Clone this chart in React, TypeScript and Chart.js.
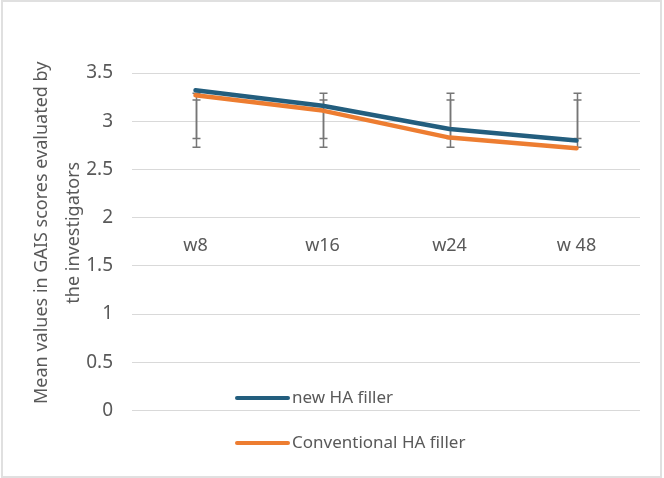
import React, { useEffect, useRef } from "react";
import { Chart, registerables } from "chart.js";

Chart.register(...registerables);

// ---- data ----
const categories = ["w8", "w16", "w24", "w 48"];
const seriesLabels = ["new HA filler", "Conventional HA filler"];
const newHA = [3.32, 3.16, 2.92, 2.8];
const conventionalHA = [3.27, 3.11, 2.83, 2.72];
const errOuterHigh = [3.29, 3.29, 3.29, 3.29];
const errOuterLow = [2.73, 2.73, 2.73, 2.73];
const errInnerHigh = [3.22, 3.22, 3.22, 3.22];
const errInnerLow = [2.82, 2.82, 2.82, 2.82];
const yTitle = ["Mean values in GAIS scores evaluated by", "the investigators"];
const yMin = 0;
const yMax = 3.5;
const yStep = 0.5;

// ---- styles ----
const FONT = "'Noto Sans', 'DejaVu Sans', sans-serif";
const TEXT = "#595959";
const GRID = "#d9d9d9";
const BLUE = "#235E7E";
const ORANGE = "#ED7D31";
const ERR = "#767676";

const borderPlugin = {
  id: "outerBorder",
  beforeDraw(chart: any) {
    const ctx = chart.ctx;
    ctx.save();
    ctx.fillStyle = "#ffffff";
    ctx.fillRect(0, 0, chart.width, chart.height);
    ctx.strokeStyle = "#e0e0e0";
    ctx.lineWidth = 2;
    ctx.strokeRect(2, 1, 659, 476);
    ctx.restore();
  },
};

// shift the y-axis box (title only; pixel mapping already configured) to centre the title like the original
const titleShiftPlugin = {
  id: "titleShift",
  afterLayout(chart: any) {
    const ys = chart.scales.y;
    ys.top = chart.chartArea.top - 9;
    ys.bottom = chart.chartArea.bottom - 9;
  },
};

const errorBarPlugin = {
  id: "errorBars",
  beforeDatasetsDraw(chart: any) {
    const ctx = chart.ctx;
    const xs = chart.scales.x;
    const ys = chart.scales.y;
    const pairs = [
      [errOuterLow, errOuterHigh],
      [errInnerLow, errInnerHigh],
    ];
    ctx.save();
    ctx.strokeStyle = ERR;
    ctx.lineWidth = 1.5;
    const cap = 4;
    categories.forEach((_, i) => {
      const px = Math.round(xs.getPixelForValue(i)) + 0.5;
      pairs.forEach(([lo, hi]) => {
        const y1 = ys.getPixelForValue(lo[i]);
        const y2 = ys.getPixelForValue(hi[i]);
        ctx.beginPath();
        ctx.moveTo(px, y1);
        ctx.lineTo(px, y2);
        ctx.moveTo(px - cap, y1);
        ctx.lineTo(px + cap, y1);
        ctx.moveTo(px - cap, y2);
        ctx.lineTo(px + cap, y2);
        ctx.stroke();
      });
    });
    ctx.restore();
  },
};

const legendPlugin = {
  id: "customLegend",
  afterDraw(chart: any) {
    const ctx = chart.ctx;
    const rows = [398, 443];
    const x0 = 237;
    const x1 = 288;
    ctx.save();
    chart.data.datasets.forEach((ds: any, i: number) => {
      const y = rows[i];
      ctx.strokeStyle = ds.borderColor;
      ctx.lineWidth = 4;
      ctx.lineCap = "round";
      ctx.beginPath();
      ctx.moveTo(x0, y);
      ctx.lineTo(x1, y);
      ctx.stroke();
      ctx.fillStyle = TEXT;
      ctx.font = `17px ${FONT}`;
      ctx.textBaseline = "middle";
      ctx.textAlign = "left";
      ctx.fillText(ds.label, x1 + 4, y);
    });
    ctx.restore();
  },
};

export default function App() {
  const ref = useRef<HTMLCanvasElement | null>(null);

  useEffect(() => {
    if (!ref.current) return;
    const chart = new Chart(ref.current, {
      type: "line",
      data: {
        labels: categories,
        datasets: [
          {
            label: seriesLabels[0],
            data: newHA,
            borderColor: BLUE,
            backgroundColor: BLUE,
            borderWidth: 4.5,
            pointRadius: 0,
            tension: 0,
            borderCapStyle: "round",
            borderJoinStyle: "round",
          },
          {
            label: seriesLabels[1],
            data: conventionalHA,
            borderColor: ORANGE,
            backgroundColor: ORANGE,
            borderWidth: 4.5,
            pointRadius: 0,
            tension: 0,
            borderCapStyle: "round",
            borderJoinStyle: "round",
          },
        ],
      },
      options: {
        responsive: false,
        animation: false,
        layout: { padding: { left: 0, top: 73, right: 24, bottom: 67.5 } },
        plugins: {
          legend: { display: false },
          tooltip: { enabled: false },
        },
        scales: {
          x: {
            type: "category",
            position: { y: 2 } as any,
            offset: true,
            grid: { display: false, drawTicks: false },
            border: { display: false },
            ticks: {
              color: TEXT,
              font: { family: FONT, size: 18 },
              padding: 17,
              maxRotation: 0,
            },
          },
          y: {
            min: yMin,
            max: yMax,
            afterFit(scale: any) {
              scale.width = 132;
            },
            grid: { color: GRID, lineWidth: 1, drawTicks: false },
            border: { display: false },
            ticks: {
              stepSize: yStep,
              color: TEXT,
              font: { family: FONT, size: 19 },
              padding: 19,
              callback: (v: any) => String(Number(v)),
            },
            title: {
              display: true,
              text: yTitle,
              color: TEXT,
              font: { family: FONT, size: 18, lineHeight: 32 / 18 },
              padding: { top: 26, bottom: 0 },
            },
          },
        },
      },
      plugins: [borderPlugin, titleShiftPlugin, errorBarPlugin, legendPlugin],
    });
    return () => chart.destroy();
  }, []);

  return (
    <div style={{ position: "fixed", left: 0, top: 0, width: 664, height: 478, background: "#fff" }}>
      <canvas ref={ref} width={664} height={478} style={{ display: "block" }} />
    </div>
  );
}
